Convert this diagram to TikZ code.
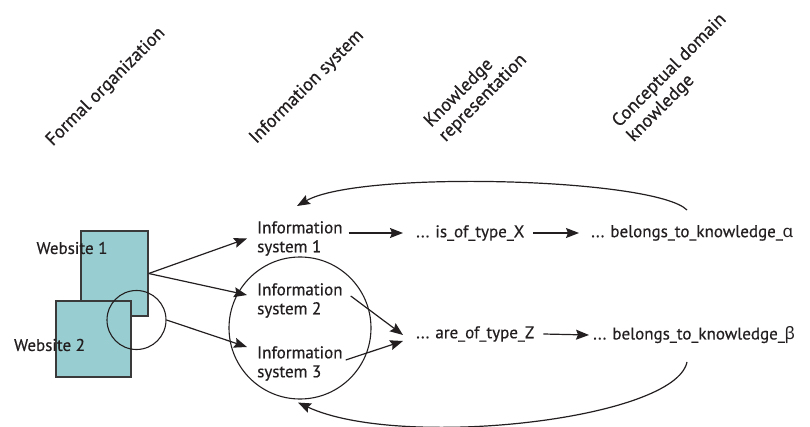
\documentclass[tikz,border=0pt]{standalone}
\usepackage{fontspec}
\setmainfont{PT Sans}[RawFeature={embolden=0.5}]
\newfontfamily\grk{Noto Sans}
\usetikzlibrary{arrows.meta,calc}
\definecolor{ink}{HTML}{231F20}
\definecolor{sitefill}{HTML}{98CED2}
\definecolor{siteedge}{HTML}{3A3A3A}
\begin{document}
\begin{tikzpicture}[x=1pt,y=-1pt,
  every node/.style={text=ink, font=\fontsize{17}{19}\selectfont, inner sep=0pt},
  site/.style={draw=siteedge, line width=1.4pt, fill=sitefill},
  arr/.style={draw=ink, line width=1.2pt, -{Stealth[length=13pt,width=10pt,inset=2pt]}},
  ring/.style={circle, draw=ink, line width=1.1pt},
  head/.style={rotate=45, align=left, font=\fontsize{18.5}{20.5}\selectfont},
  stage/.style={align=left, anchor=west},
  term/.style={anchor=west}
]
\useasboundingbox (0,0) rectangle (810,427);

% column headings
\node[head] (h1) at (106,87) {Formal organization};
\node[head] (h2) at (307,87) {Information system};
\node[head] (h3) at (476,91) {Knowledge\\representation};
\node[head] (h4) at (677,78) {Conceptual domain\\knowledge};

% websites
\node[site, minimum width=67pt, minimum height=85pt] (w1) at (114.5,273.5) {};
\node[site, minimum width=75pt, minimum height=76pt] (w2) at (93.5,339) {};
\node (w1t) at (72,248) {Website 1};
\node (w2t) at (49.5,345) {Website 2};
\node[ring, minimum size=59pt] (sc) at (136.5,320) {};

% information systems
\node[ring, minimum size=142pt] (bc) at (300,328) {};
\node[stage] (is1) at (257,238.5) {Information\\system 1};
\node[stage] (is2) at (257,300.5) {Information\\system 2};
\node[stage] (is3) at (257,363.5) {Information\\system 3};

% representation and domain knowledge
\node[term] (tx) at (416,233) {... is\_of\_type\_X};
\node[term] (ta) at (591,233) {... belongs\_to\_knowledge\_{\grk α}};
\node[term] (tz) at (416,334) {... are\_of\_type\_Z};
\node[term] (tb) at (593,335) {... belongs\_to\_knowledge\_{\grk β}};

% connectors
\draw[arr] (w1.east) -- ($(is1.west)+(-10,0)$);
\draw[arr] (w1.east) -- ($(is2.west)+(-10,-5.5)$);
\draw[arr] (sc.east) -- ($(is3.west)+(-10,-16.5)$);
\draw[arr] ($(is1.east)+(6,-5.5)$) -- ($(tx.west)+(-13,0)$);
\draw[arr] ($(tx.east)+(9,0)$) -- ($(ta.west)+(-12,0)$);
\draw[arr] ($(is2.east)+(8,-4.5)$) -- ($(tz.west)+(-13,1)$);
\draw[arr] ($(is3.east)+(3,-3.5)$) -- ($(tz.west)+(-13,7)$);
\draw[arr] ($(tz.east)+(9,0)$) -- ($(tb.west)+(-4,0)$);

% feedback loops
\draw[arr] ($(ta.west)+(96,-23)$) .. controls (655,178) and (360,170) .. ($(is1.west)+(40,-32.5)$);
\draw[arr] ($(tb.west)+(94,27)$) .. controls (675,420) and (400,450) .. ($(bc.south)+(-2,3)$);
\end{tikzpicture}
\end{document}
